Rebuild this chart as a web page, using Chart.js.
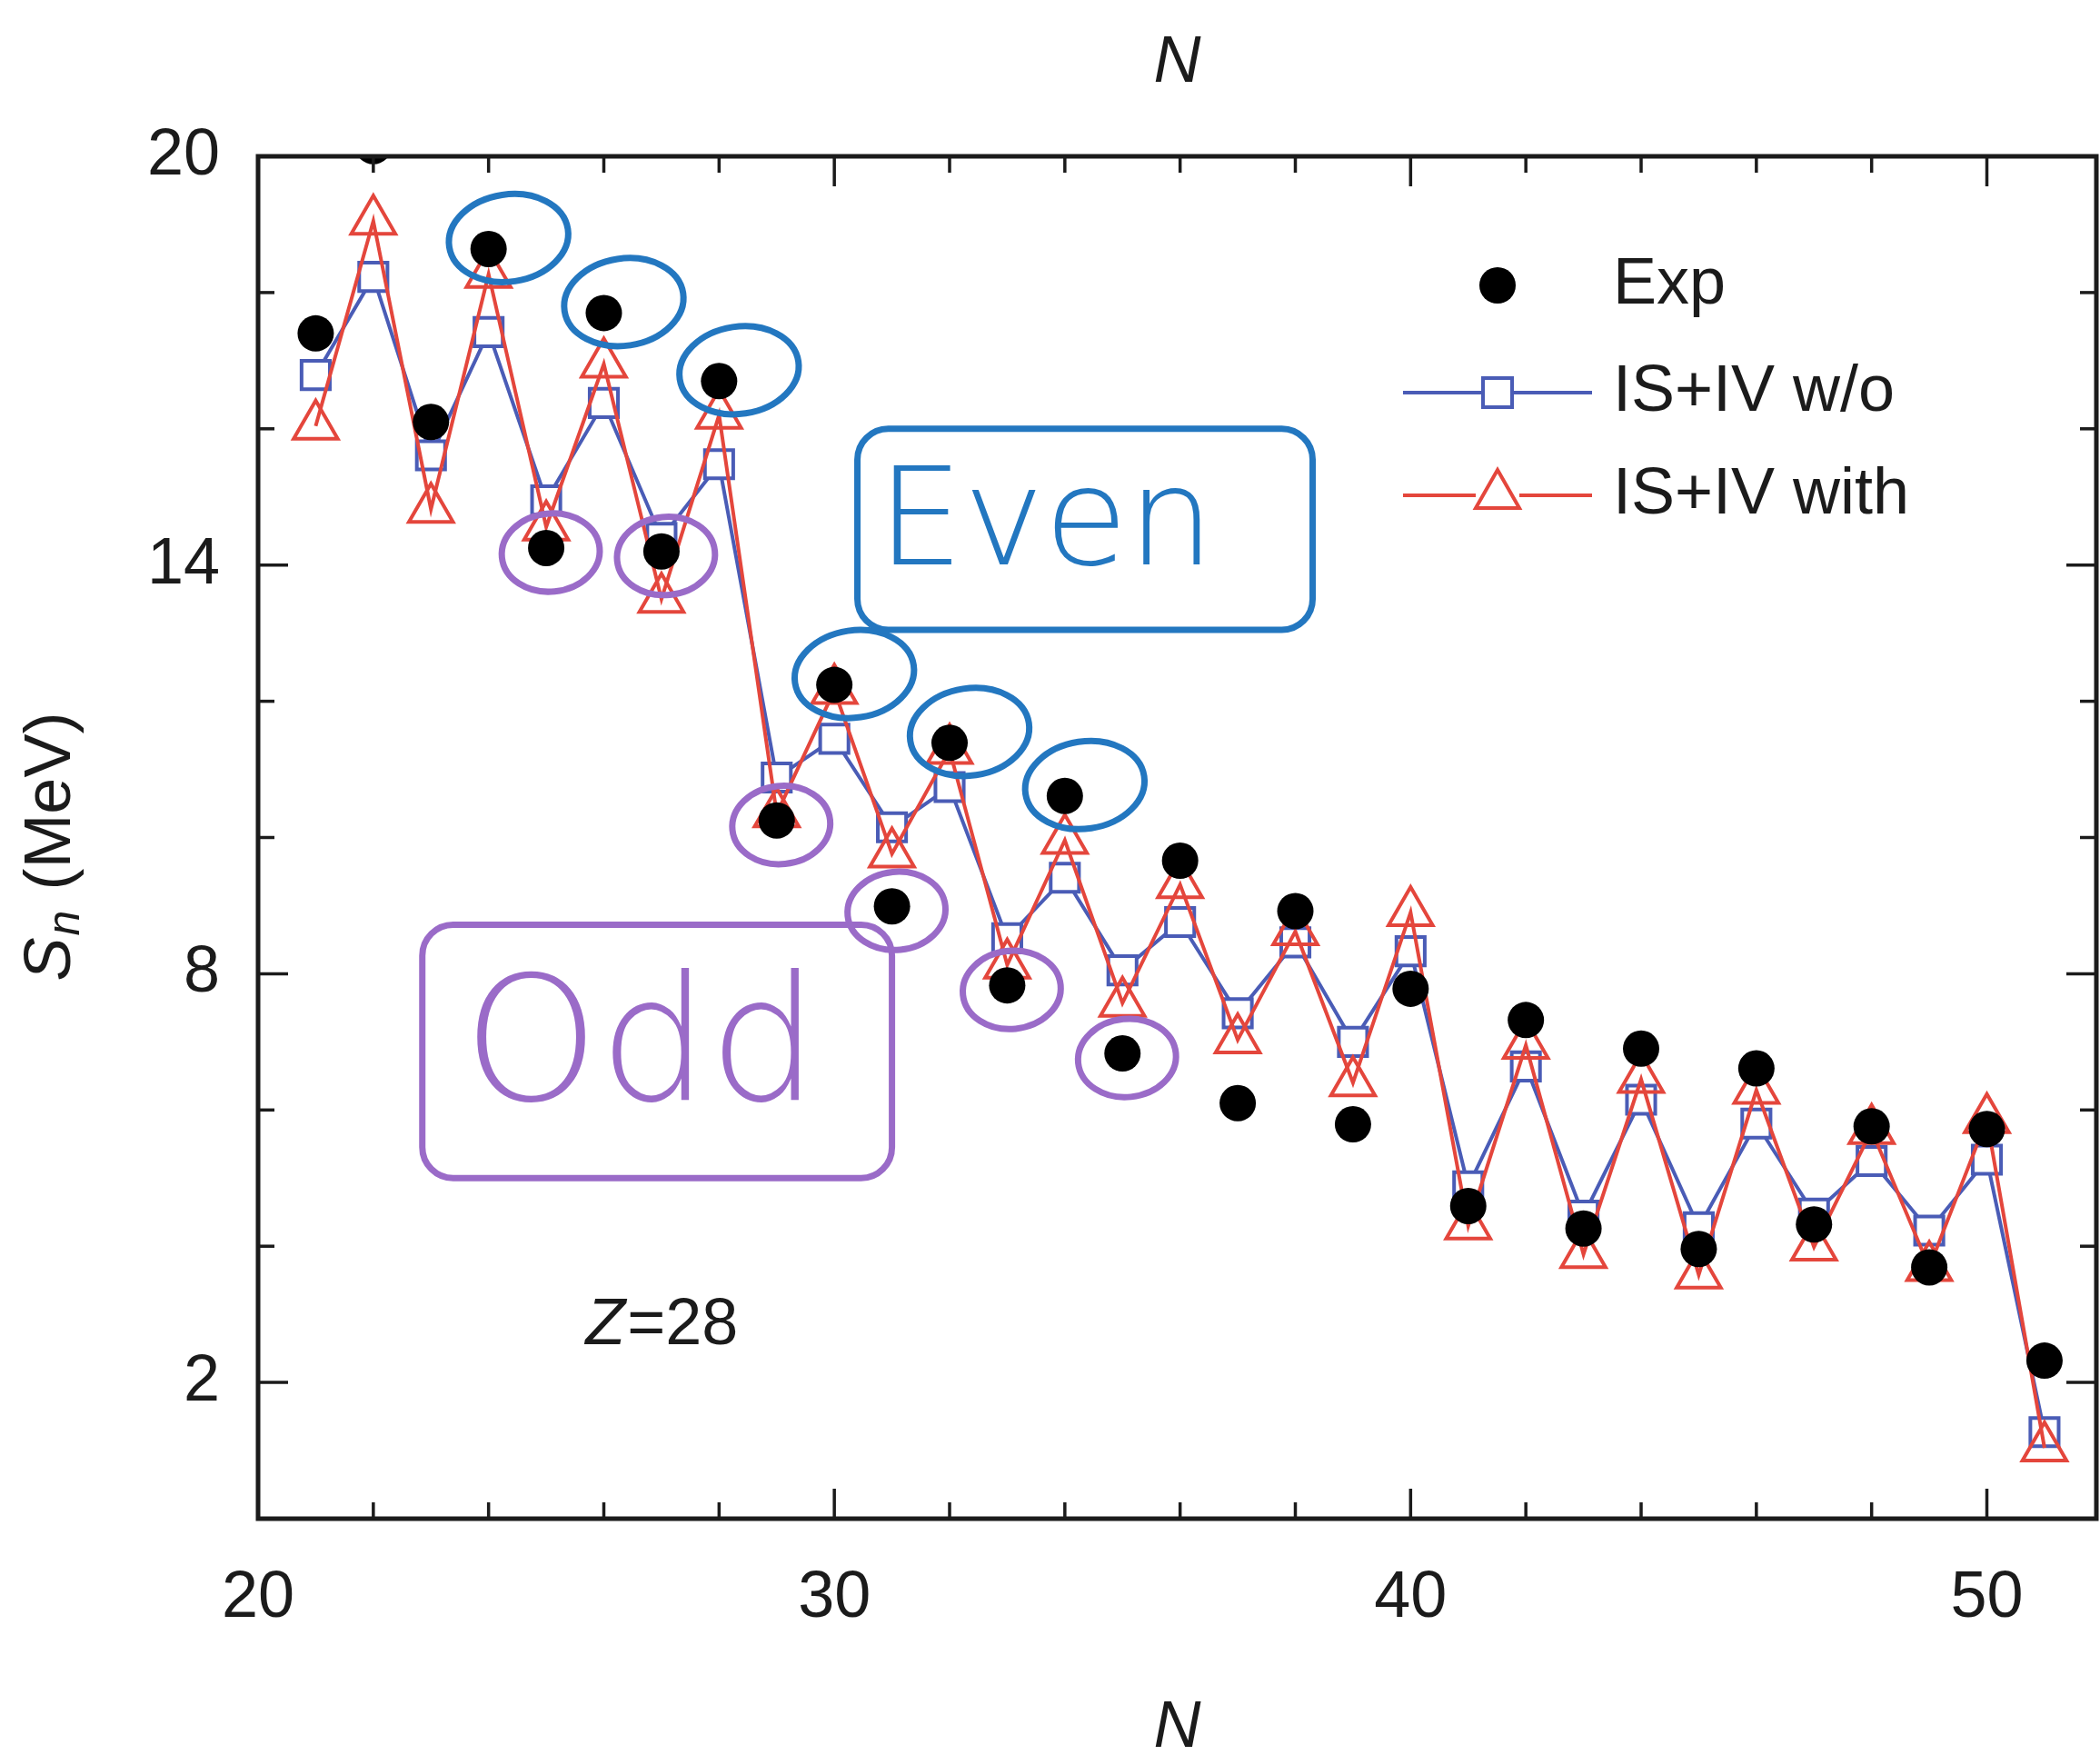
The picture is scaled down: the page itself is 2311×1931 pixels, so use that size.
<!DOCTYPE html>
<html>
<head>
<meta charset="utf-8">
<script src="https://cdn.jsdelivr.net/npm/chart.js@4.4.1/dist/chart.umd.min.js"></script>
<style>
  html, body { margin: 0; padding: 0; background: #fff; }
  #wrap { width: 2311px; height: 1931px; }
</style>
</head>
<body>
<div id="wrap"><canvas id="myChart"></canvas></div>
<script>
// neutron number N (Z=28)
const nValues = [21, 22, 23, 24, 25, 26, 27, 28, 29, 30, 31, 32, 33, 34, 35, 36,
  37, 38, 39, 40, 41, 42, 43, 44, 45, 46, 47, 48, 49, 50, 51];

// S_n in MeV
const expSn = [17.40, 20.15, 16.10, 18.64, 14.25, 17.70, 14.20, 16.70, 10.25, 12.24,
  8.99, 11.39, 7.83, 10.61, 6.83, 9.66, 6.10, 8.92, 5.79, 7.78, 4.59, 7.32, 4.26,
  6.90, 3.96, 6.61, 4.32, 5.76, 3.69, 5.72, 2.32];
const woSn = [16.79, 18.23, 15.61, 17.42, 14.95, 16.38, 14.40, 15.48, 10.88, 11.45,
  10.15, 10.74, 8.52, 9.41, 8.05, 8.76, 7.42, 8.46, 7.00, 8.33, 4.88, 6.64, 4.45,
  6.15, 4.28, 5.80, 4.48, 5.25, 4.23, 5.27, 1.27];
const withSn = [16.04, 19.05, 14.82, 18.27, 14.56, 16.95, 13.50, 16.20, 10.35, 12.16,
  9.76, 11.28, 8.13, 9.96, 7.57, 9.31, 7.03, 8.62, 6.40, 8.90, 4.30, 6.95, 3.88,
  6.45, 3.58, 6.29, 3.99, 5.70, 3.69, 5.86, 1.04];

// axis labels
const xTickLabels = [20, 30, 40, 50];
const yTickLabels = [2, 8, 14, 20];

// hand marked points
const evenMarked = [24, 26, 28, 30, 32, 34];
const oddMarked = [25, 27, 29, 31, 33, 35];

const ink = '#1b1b1b';
const blue = '#4a5cb6';
const red = '#e4463c';
const penBlue = '#2377c0';
const penPurple = '#9a6bc8';
const fam = "'Liberation Sans', Arial, Helvetica, sans-serif";

function pts(ys) {
  return nValues.map((n, i) => ({ x: n, y: ys[i] }));
}

const data = {
  datasets: [
    {
      label: 'Exp',
      data: pts(expSn),
      showLine: false,
      pointStyle: 'circle',
      pointRadius: 20,
      pointBackgroundColor: '#000',
      pointBorderColor: '#000',
      pointBorderWidth: 0,
      clip: 0,
      order: 0
    },
    {
      label: 'IS+IV with',
      data: pts(withSn),
      borderColor: red,
      borderWidth: 4,
      tension: 0,
      pointStyle: 'triangle',
      pointRadius: 28,
      pointBorderWidth: 4,
      pointBorderColor: red,
      pointBackgroundColor: 'rgba(255,255,255,0)',
      order: 1
    },
    {
      label: 'IS+IV w/o',
      data: pts(woSn),
      borderColor: blue,
      borderWidth: 4,
      tension: 0,
      pointStyle: 'rect',
      pointRadius: 22,
      pointBorderWidth: 4,
      pointBorderColor: blue,
      pointBackgroundColor: '#fff',
      order: 2
    }
  ]
};

function seg(ctx, x1, y1, x2, y2) {
  ctx.beginPath();
  ctx.moveTo(x1, y1);
  ctx.lineTo(x2, y2);
  ctx.stroke();
}

// frame with inward ticks, legend, labels and the pen marks
const decor = {
  id: 'decor',
  afterDatasetsDraw(chart) {
    const { ctx, chartArea: a, scales: { x, y } } = chart;
    ctx.save();

    // pen marks
    ctx.lineWidth = 7;
    ctx.lineCap = 'round';
    ctx.strokeStyle = penBlue;
    evenMarked.forEach(n => {
      const i = nValues.indexOf(n);
      ctx.beginPath();
      ctx.ellipse(x.getPixelForValue(n) + 22, y.getPixelForValue(expSn[i]) - 12, 66, 48, -0.15, 0, Math.PI * 2);
      ctx.stroke();
    });
    ctx.strokeStyle = penPurple;
    oddMarked.forEach(n => {
      const i = nValues.indexOf(n);
      ctx.beginPath();
      ctx.ellipse(x.getPixelForValue(n) + 5, y.getPixelForValue(expSn[i]) + 5, 54, 43, -0.1, 0, Math.PI * 2);
      ctx.stroke();
    });

    function box(x0, y0, x1, y1, col) {
      const l = x.getPixelForValue(x0), r = x.getPixelForValue(x1);
      const t = y.getPixelForValue(y0), b = y.getPixelForValue(y1);
      ctx.strokeStyle = col;
      ctx.beginPath();
      ctx.roundRect(l, t, r - l, b - t, 34);
      ctx.stroke();
      return { l, t, r, b };
    }
    const eb = box(30.4, 16.0, 38.3, 13.05, penBlue);
    const ob = box(22.85, 8.72, 31.0, 5.0, penPurple);
    ctx.textBaseline = 'middle';
    ctx.textAlign = 'left';
    ctx.fillStyle = penBlue;
    ctx.font = "200 150px 'DejaVu Sans'";
    ctx.fillText('Even', eb.l + 22, (eb.t + eb.b) / 2);
    ctx.fillStyle = penPurple;
    ctx.font = "200 190px 'DejaVu Sans'";
    ctx.fillText('Odd', ob.l + 45, (ob.t + ob.b) / 2 + 4);

    // frame and ticks
    ctx.lineCap = 'butt';
    ctx.strokeStyle = ink;
    ctx.lineWidth = 5;
    ctx.strokeRect(a.left, a.top, a.right - a.left, a.bottom - a.top);
    ctx.lineWidth = 3.5;
    for (let v = 20; v <= 51; v += 2) {
      const px = x.getPixelForValue(v);
      const len = xTickLabels.includes(v) ? 33 : 18;
      seg(ctx, px, a.bottom, px, a.bottom - len);
      seg(ctx, px, a.top, px, a.top + len);
    }
    for (let v = 0; v <= 20; v += 2) {
      const py = y.getPixelForValue(v);
      const len = yTickLabels.includes(v) ? 33 : 18;
      seg(ctx, a.left, py, a.left + len, py);
      seg(ctx, a.right, py, a.right - len, py);
    }

    // legend
    const mx = a.left + 1364;
    const tx = mx + 127;
    const rows = [a.top + 142, a.top + 260, a.top + 373];
    ctx.fillStyle = '#000';
    ctx.beginPath();
    ctx.arc(mx, rows[0], 20, 0, Math.PI * 2);
    ctx.fill();

    ctx.strokeStyle = blue;
    ctx.lineWidth = 4;
    seg(ctx, mx - 104, rows[1], mx - 16, rows[1]);
    seg(ctx, mx + 16, rows[1], mx + 104, rows[1]);
    ctx.strokeRect(mx - 16, rows[1] - 16, 32, 32);

    ctx.strokeStyle = red;
    seg(ctx, mx - 104, rows[2], mx - 24, rows[2]);
    seg(ctx, mx + 24, rows[2], mx + 104, rows[2]);
    ctx.beginPath();
    ctx.moveTo(mx, rows[2] - 28);
    ctx.lineTo(mx + 24, rows[2] + 14);
    ctx.lineTo(mx - 24, rows[2] + 14);
    ctx.closePath();
    ctx.stroke();

    ctx.fillStyle = ink;
    ctx.font = '72px ' + fam;
    ctx.fillText('Exp', tx, rows[0]);
    ctx.fillText('IS+IV w/o', tx, rows[1]);
    ctx.fillText('IS+IV with', tx, rows[2]);

    // Z=28
    const zx = x.getPixelForValue(25.68), zy = y.getPixelForValue(2.83);
    ctx.font = 'italic 72px ' + fam;
    ctx.fillText('Z', zx, zy);
    const zw = ctx.measureText('Z').width;
    ctx.font = '72px ' + fam;
    ctx.fillText('=28', zx + zw + 2, zy);

    // y title S_n (MeV)
    ctx.translate(57, (a.top + a.bottom) / 2 + 10);
    ctx.rotate(-Math.PI / 2);
    ctx.font = 'italic 72px ' + fam;
    const wS = ctx.measureText('S').width;
    ctx.font = 'italic 50px ' + fam;
    const wn = ctx.measureText('n').width;
    ctx.font = '72px ' + fam;
    const wM = ctx.measureText(' (MeV)').width;
    let cx = -(wS + wn + 4 + wM) / 2;
    ctx.font = 'italic 72px ' + fam;
    ctx.fillText('S', cx, 0);
    cx += wS + 2;
    ctx.font = 'italic 50px ' + fam;
    ctx.fillText('n', cx, 16);
    cx += wn + 2;
    ctx.font = '72px ' + fam;
    ctx.fillText(' (MeV)', cx, 0);

    ctx.restore();
  }
};

const config = {
  type: 'line',
  data: data,
  options: {
    responsive: true,
    maintainAspectRatio: false,
    animation: false,
    events: [],
    layout: { autoPadding: false, padding: { left: 0, right: 4, top: 0, bottom: 0 } },
    plugins: {
      legend: { display: false },
      tooltip: { enabled: false }
    },
    scales: {
      x: {
        type: 'linear',
        position: 'bottom',
        min: 20,
        max: 51.9,
        grid: { display: false },
        border: { display: false },
        afterBuildTicks: s => { s.ticks = xTickLabels.map(v => ({ value: v })); },
        afterFit: s => { s.height = 260; },
        ticks: {
          autoSkip: false,
          maxRotation: 0,
          padding: 37,
          color: ink,
          font: { family: fam, size: 72 }
        },
        title: {
          display: true,
          text: 'N',
          color: ink,
          padding: { top: 0, bottom: 0 },
          font: { family: fam, size: 72, style: 'italic', lineHeight: 0.8 }
        }
      },
      x2: {
        type: 'linear',
        position: 'top',
        min: 20,
        max: 51.9,
        grid: { display: false },
        border: { display: false },
        ticks: { display: false },
        afterFit: s => { s.height = 172; },
        title: {
          display: true,
          text: 'N',
          color: ink,
          padding: { top: 41, bottom: 0 },
          font: { family: fam, size: 72, style: 'italic', lineHeight: 0.8 }
        }
      },
      y: {
        type: 'linear',
        position: 'left',
        min: 0,
        max: 20,
        grid: { display: false },
        border: { display: false },
        afterBuildTicks: s => { s.ticks = yTickLabels.map(v => ({ value: v })); },
        afterFit: s => { s.width = 284; },
        ticks: {
          autoSkip: false,
          padding: 34,
          color: ink,
          font: { family: fam, size: 72 }
        }
      }
    }
  },
  plugins: [decor]
};

const myChart = new Chart(document.getElementById('myChart'), config);
</script>
</body>
</html>
